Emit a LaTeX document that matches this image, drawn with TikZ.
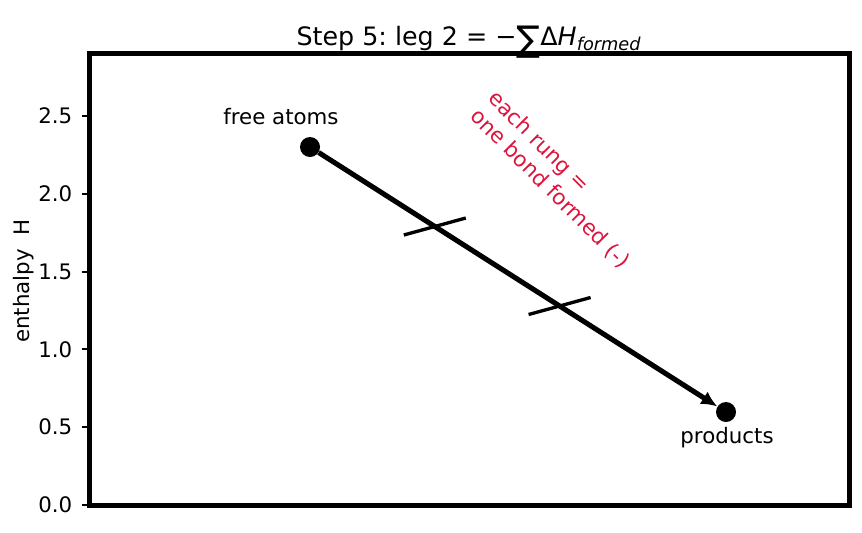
\documentclass[tikz,border=0pt]{standalone}
\usepackage{fontspec}
\setmainfont{DejaVu Sans}
\usetikzlibrary{arrows.meta,calc}
\definecolor{crimson}{HTML}{DC143C}
\frenchspacing
\begin{document}
\begin{tikzpicture}[x=0.75pt, y=-0.75pt, font=\fontsize{16}{19}\selectfont]
 \useasboundingbox (0,0) rectangle (862,532);

 %axes
 \def\dx{89}
 \def\dy{505}
 \draw[line width=3.75pt] (89,53) rectangle (849,505);
 \foreach \i/\name [count=\k] in {0/0.0, 0.5/0.5, 1/1.0, 1.5/1.5, 2/2.0, 2.5/2.5} {
         \draw[line width=1.5pt] (\dx-7, \dy-155.6*\i) -- (\dx, \dy-155.6*\i);
         \node[anchor=east] (tick\k) at (\dx-12, \dy-155.6*\i) {\name};
 }
 \node[rotate=90] (ylab) at (24,281) {enthalpy\ \ H};

 %title
 \node[font=\fontsize{19}{23}\selectfont, anchor=base] (title) at (469,45)
   {Step 5: leg 2 = −\raisebox{-0.25em}{\scalebox{1.4}{∑}}Δ\textit{H}\textsubscript{\textit{formed}}};

 %points
 \node[circle, fill, inner sep=0pt, minimum size=15pt] (atoms) at (310,147) {};
 \node[circle, fill, inner sep=0pt, minimum size=15pt] (prod) at (726,412) {};
 \node (atomslbl) at (281,117) {free atoms};
 \node (prodlbl) at (727,438) {products};

 %arrow
 \draw[line width=3.8pt, -{Latex[length=12pt,width=11pt]}] (atoms) -- (prod);

 %rungs
 \foreach \t [count=\k] in {0.3, 0.6} {
         \coordinate (rung\k) at ($(atoms)!\t!(prod)$);
         \draw[line width=2.5pt] ($(rung\k)+(-31,8.5)$) -- ($(rung\k)+(31,-8.5)$);
 }

 \node[crimson, rotate=-45, align=left] (note) at (559,180) {each rung =\\one bond formed (-)};

\end{tikzpicture}
\end{document}
